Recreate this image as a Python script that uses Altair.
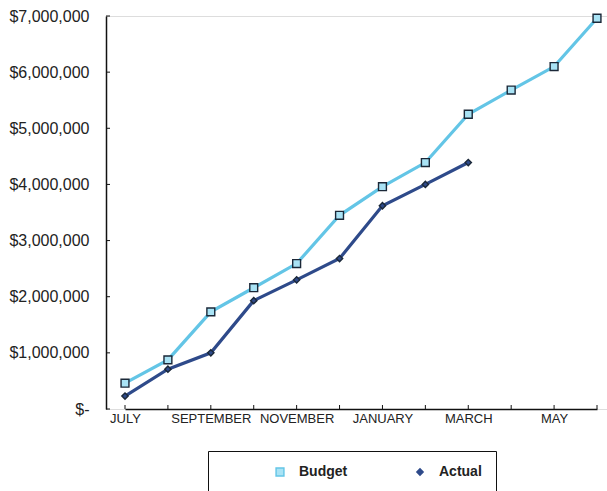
import altair as alt
import pandas as pd

months = ["JULY", "AUGUST", "SEPTEMBER", "OCTOBER", "NOVEMBER", "DECEMBER",
          "JANUARY", "FEBRUARY", "MARCH", "APRIL", "MAY", "JUNE"]
shown_labels = ["JULY", "SEPTEMBER", "NOVEMBER", "JANUARY", "MARCH", "MAY"]
budget = [460000, 875000, 1730000, 2160000, 2590000, 3450000,
          3960000, 4390000, 5250000, 5680000, 6100000, 6960000]
actual = [230000, 710000, 1000000, 1930000, 2300000, 2680000,
          3620000, 4000000, 4390000]
series = ["Budget", "Actual"]
y_ticks = [0, 1000000, 2000000, 3000000, 4000000, 5000000, 6000000, 7000000]

rows = []
for m, v in zip(months, budget):
    rows.append({"month": m, "value": v, "series": "Budget"})
for m, v in zip(months, actual):
    rows.append({"month": m, "value": v, "series": "Actual"})
df = pd.DataFrame(rows)

W, H = 501, 393
xscale = alt.Scale(type="point", domain=months, range=[19, 491], padding=0)
yscale = alt.Scale(domain=[0, 7000000], nice=False)

label_list = "[" + ",".join("'" + s + "'" for s in shown_labels) + "]"

x_enc = alt.X("month:N", scale=xscale, sort=months, title=None,
              axis=alt.Axis(labelExpr="indexof(" + label_list + ", datum.value) >= 0 ? datum.value : ''",
                            labelAngle=0, labelAlign="center", labelFont="Arial", labelFontSize=13,
                            labelColor="#222222", labelPadding=9, ticks=False,
                            domainColor="#111111", domainWidth=1.5, grid=False,
                            labelOverlap=False))
y_enc = alt.Y("value:Q", scale=yscale, title=None,
              axis=alt.Axis(values=y_ticks,
                            labelExpr="datum.value == 0 ? '$-  ' : '$' + format(datum.value, ',')",
                            labelFont="Arial", labelFontSize=16, labelColor="#222222",
                            labelPadding=17, ticks=False, domainColor="#111111",
                            domainWidth=1.5, grid=False))

line_colors = ["#63C5E6", "#2E4A8A"]
fill_colors = ["#A9E3F5", "#2E4A8A"]

nbsp = "\u00a0" * 8
leg = alt.Legend(title=None, orient="none", legendX=102, legendY=435,
                 direction="horizontal",
                 strokeColor="#111111", fillColor="white", padding=14,
                 labelFont="Arial", labelFontSize=14,
                 labelFontWeight="bold", labelColor="#222222",
                 labelExpr="datum.label == 'Actual' ? datum.label + '" + nbsp + "' : datum.label",
                 symbolOffset=51, labelOffset=12, columnPadding=14,
                 symbolStrokeColor="#1B2838", symbolStrokeWidth=1.4)

lines = alt.Chart(df).mark_line(strokeWidth=3.2).encode(
    x=x_enc, y=y_enc,
    color=alt.Color("series:N", scale=alt.Scale(domain=series, range=line_colors), legend=leg),
)

points = alt.Chart(df).mark_point(filled=True, stroke="#1B2838", strokeWidth=1.4, opacity=1).encode(
    x=alt.X("month:N", scale=xscale, sort=months),
    y=alt.Y("value:Q", scale=yscale),
    fill=alt.Fill("series:N", scale=alt.Scale(domain=series, range=fill_colors), legend=None),
    shape=alt.Shape("series:N", scale=alt.Scale(domain=series, range=["square", "diamond"]), legend=None),
    size=alt.Size("series:N", scale=alt.Scale(domain=series, range=[62, 40]), legend=None),
)

ytick_df = pd.DataFrame({"v": y_ticks})
yticks = alt.Chart(ytick_df).mark_rule(color="#111111", strokeWidth=1).encode(
    y=alt.Y("v:Q", scale=yscale), x=alt.value(0), x2=alt.value(4))

xtick_df = pd.DataFrame({"m": months})
xticks = alt.Chart(xtick_df).mark_rule(color="#111111", strokeWidth=1).encode(
    x=alt.X("m:N", scale=xscale, sort=months), y=alt.value(H), y2=alt.value(H - 4))

chart = alt.layer(yticks, xticks, lines, points).properties(
    width=W, height=H,
    autosize=alt.AutoSizeParams(type="none"),
    padding={"left": 106, "top": 16, "right": 0, "bottom": 82},
).configure_view(stroke=None).configure(background="white")

chart.save("out.html", embed_options={"renderer": "svg", "actions": False})
